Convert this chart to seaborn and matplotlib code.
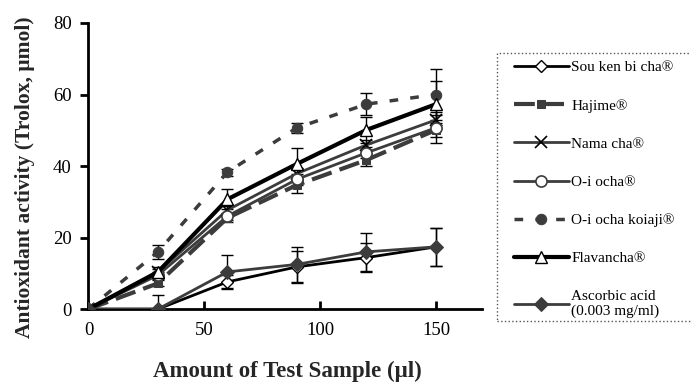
import matplotlib
matplotlib.use("Agg")
import matplotlib.pyplot as plt
import matplotlib.patches as mpatches
import seaborn as sns

# amount of test sample (ul)
amount = [0, 30, 60, 90, 120, 150]

# antioxidant activity (Trolox, umol)
sou_ken = [0, 0, 7.6, 11.8, 14.4, 17.4]
hajime = [0, 7.2, 25.5, 34.7, 41.7, 50.1]
nama_cha = [0, 10.4, 27.7, 37.9, 45.9, 52.9]
oi_ocha = [0, 9.5, 26.0, 36.3, 43.7, 50.7]
oi_koiaji = [0, 16.0, 38.3, 50.7, 57.3, 60.0]
flavancha = [0, 10.4, 30.7, 40.6, 50.1, 57.3]
ascorbic = [0, 0, 10.4, 12.5, 16.0, 17.4]

# error bars (sd)
sou_ken_err = [0, 0, 1.8, 4.4, 4.0, 5.3]
hajime_err = [0, 0.8, 1.2, 2.2, 1.7, 2.0]
nama_cha_err = [0, 0.8, 1.0, 1.5, 1.5, 1.5]
oi_ocha_err = [0, 1.0, 1.0, 1.5, 1.5, 4.3]
oi_koiaji_err = [0, 2.0, 1.0, 1.4, 3.0, 7.0]
flavancha_err = [0, 1.5, 2.8, 4.4, 3.7, 6.6]
ascorbic_err = [0, 3.9, 4.7, 4.9, 5.3, 5.4]

labels = ["Sou ken bi cha®", "Hajime®", "Nama cha®", "O-i ocha®",
          "O-i ocha koiaji®", "Flavancha®", "Ascorbic acid\n(0.003 mg/ml)"]

sns.set_theme(style="ticks")
plt.rcParams['font.family'] = ['Liberation Serif', 'DejaVu Serif']

fig = plt.figure(figsize=(6.91, 3.83), dpi=100)
ax = fig.add_axes([0.128, 0.193, 0.57, 0.747])

dark = "#3c3c3c"
series = [
    (sou_ken, sou_ken_err, dict(color="black", lw=2, marker="D", ms=6.5,
                                mfc="white", mec="black", mew=1)),
    (hajime, hajime_err, dict(color=dark, lw=3, ls=(0, (5, 2)), marker="s", ms=6,
                              mfc=dark, mec=dark)),
    (nama_cha, nama_cha_err, dict(color=dark, lw=2, marker="x", ms=9,
                                  mec="black", mew=1.2)),
    (oi_ocha, oi_ocha_err, dict(color=dark, lw=2, marker="o", ms=8,
                                mfc="white", mec=dark, mew=1.2)),
    (oi_koiaji, oi_koiaji_err, dict(color=dark, lw=2.5, ls=(0, (2.5, 3.5)), marker="o",
                                    ms=7.5, mfc=dark, mec=dark)),
    (flavancha, flavancha_err, dict(color="black", lw=3, marker="^", ms=9,
                                    mfc="white", mec="black", mew=1)),
    (ascorbic, ascorbic_err, dict(color=dark, lw=2, marker="D", ms=7,
                                  mfc=dark, mec=dark)),
]

for (vals, err, style), lab in zip(series, labels):
    ax.errorbar(amount, vals, yerr=err, fmt="none", ecolor="black",
                elinewidth=1, capsize=4, capthick=1, zorder=1)
    sns.lineplot(x=amount, y=vals, ax=ax, label=lab, zorder=3, **style)

ax.set_xlim(0, 170)
ax.set_ylim(0, 80)
ax.set_xticks([0, 50, 100, 150])
ax.set_yticks([0, 20, 40, 60, 80])
for s in ["top", "right"]:
    ax.spines[s].set_visible(False)
for s in ["left", "bottom"]:
    ax.spines[s].set_linewidth(2)
    ax.spines[s].set_color("black")
ax.spines["left"].set_bounds(0, 80)
ax.tick_params(axis="x", direction="in", length=6, width=2, labelsize=13.5, pad=9, colors="black")
ax.tick_params(axis="y", direction="out", length=6, width=2, labelsize=13.5, pad=6, colors="black")

ax.set_xlabel("Amount of Test Sample (μl)", fontsize=16.5, fontweight="bold")
ax.set_ylabel("Antioxidant activity (Trolox, μmol)", fontsize=15.5, fontweight="bold")
ax.xaxis.set_label_coords(0.505, -0.18)
ax.yaxis.set_label_coords(-0.136, 0.46)

leg = ax.legend(loc="upper left", bbox_to_anchor=(500 / 691, 1 - 47 / 383),
                bbox_transform=fig.transFigure, frameon=False, fontsize=11,
                handlelength=3.6, labelspacing=1.6, handletextpad=0.15)
for t in leg.get_texts():
    t.set_color("black")

fig.patches.append(mpatches.Rectangle((497 / 691, 1 - 321 / 383), 0.4, 268 / 383,
                                      transform=fig.transFigure, fill=False,
                                      ls=":", lw=1, ec="#555555"))

fig.savefig("out.png", dpi=100)
